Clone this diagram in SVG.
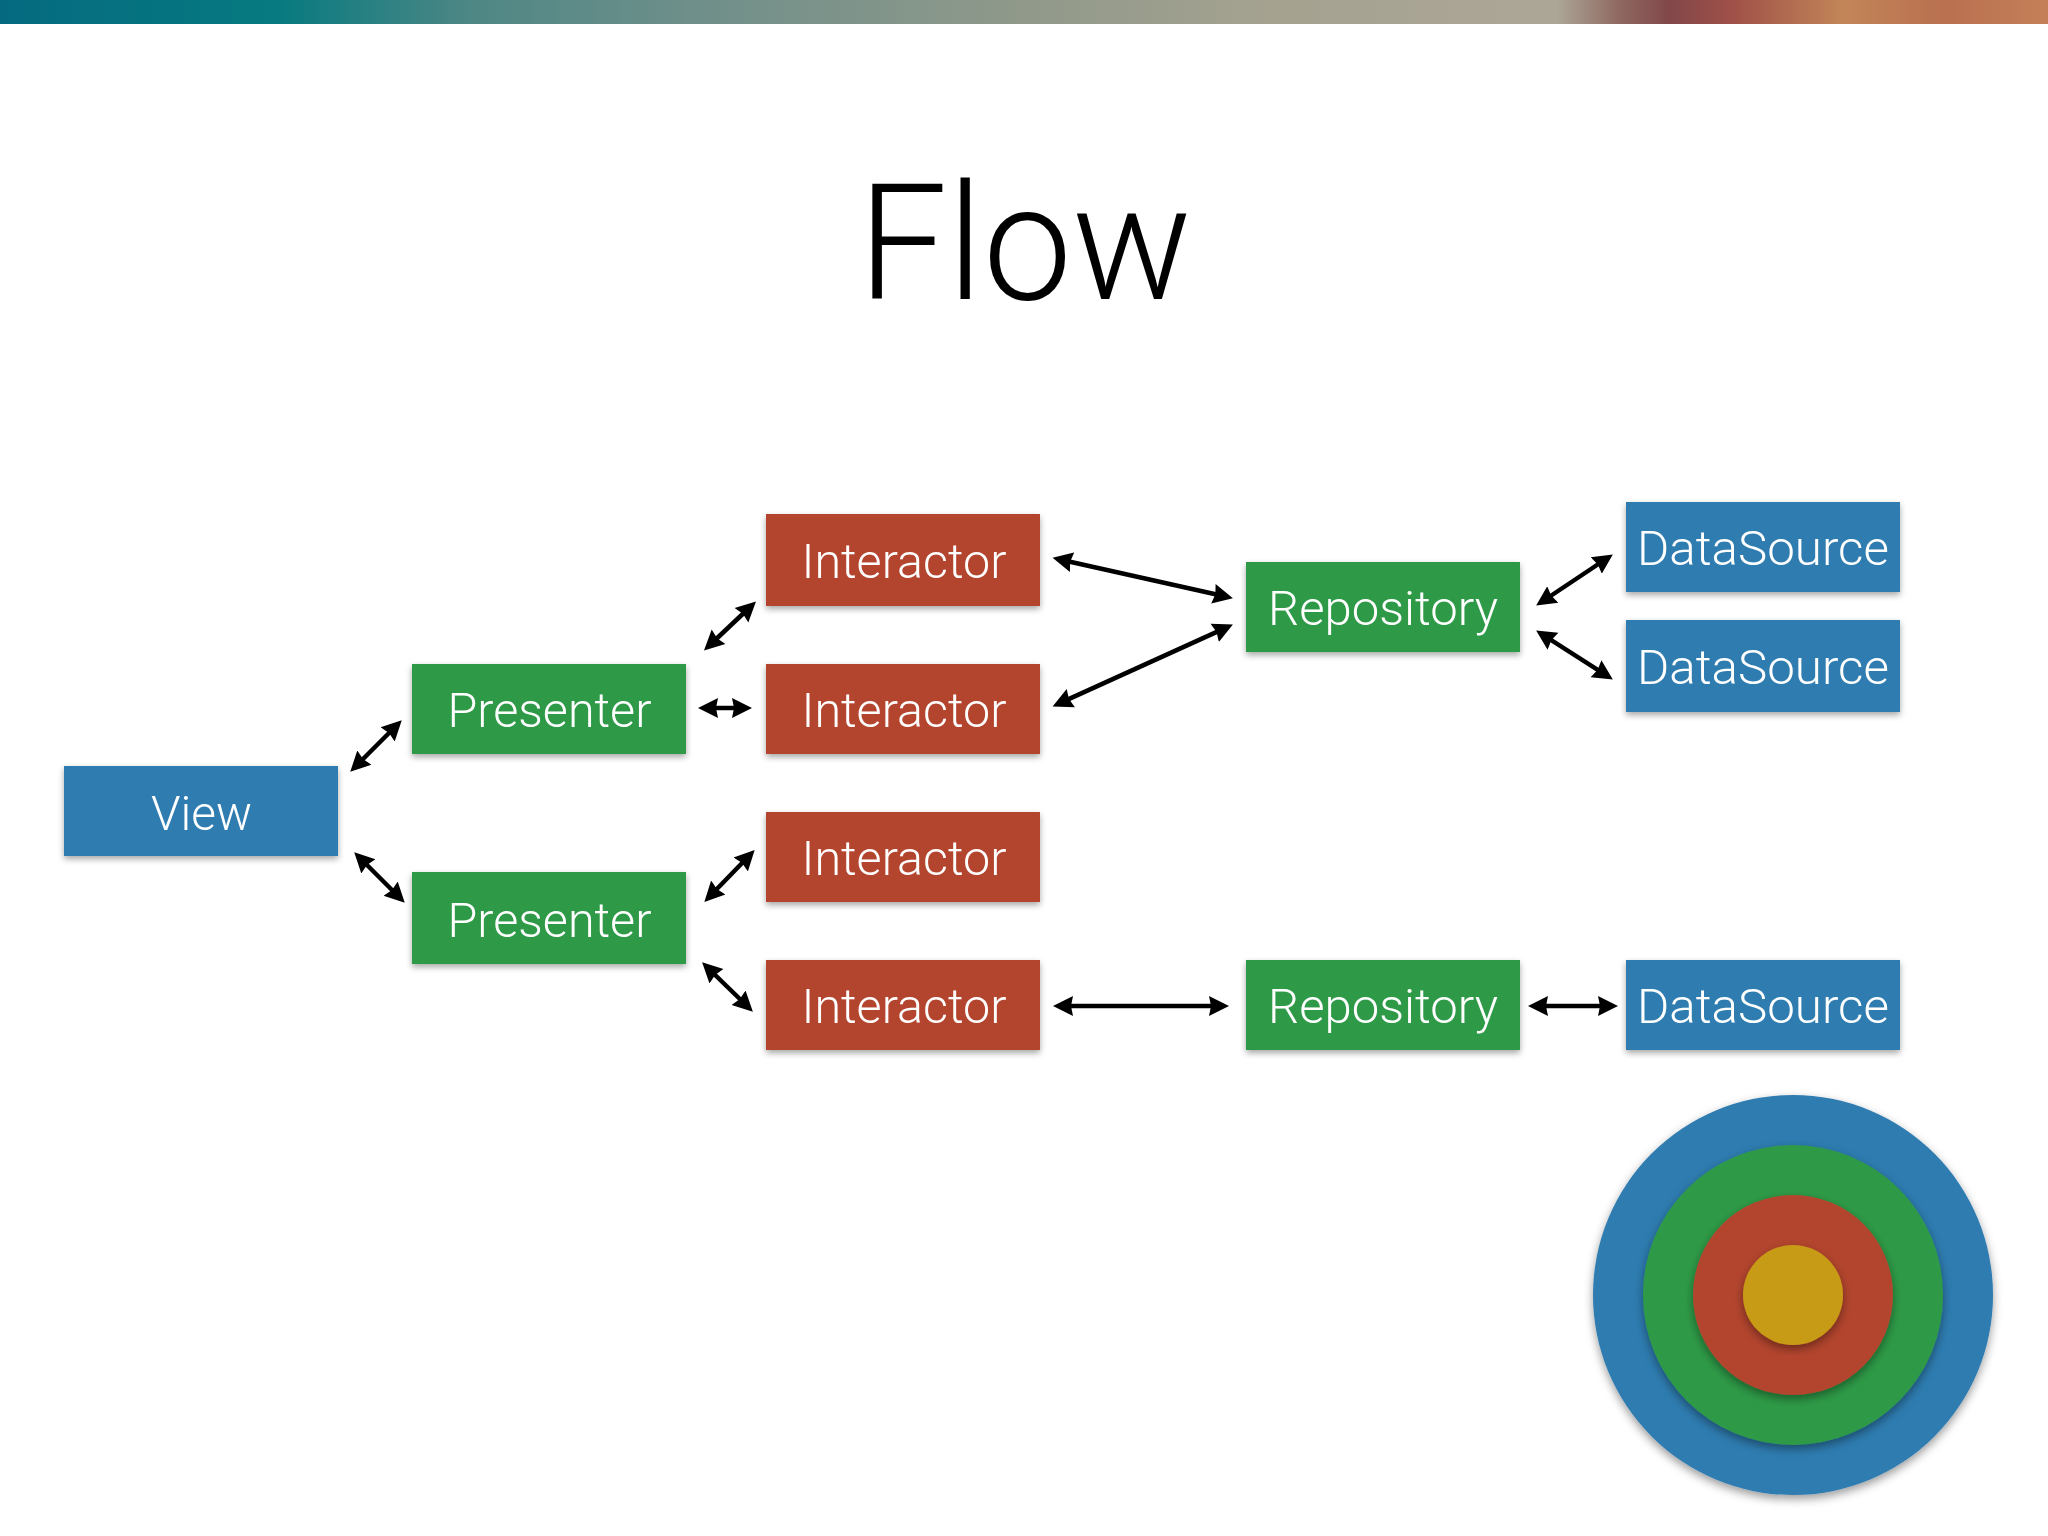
<svg xmlns="http://www.w3.org/2000/svg" width="2048" height="1536" viewBox="0 0 2048 1536">
<defs>
<linearGradient id="bar" x1="0" y1="0" x2="1" y2="0">
<stop offset="0" stop-color="#056a80"/><stop offset=".135" stop-color="#067a80"/><stop offset=".23" stop-color="#4e8785"/><stop offset=".34" stop-color="#6f8f8a"/><stop offset=".5" stop-color="#90998a"/><stop offset=".62" stop-color="#a5a290"/><stop offset=".76" stop-color="#aca697"/><stop offset=".79" stop-color="#8f6a62"/><stop offset=".815" stop-color="#82474a"/><stop offset=".845" stop-color="#9f5048"/><stop offset=".9" stop-color="#c28558"/><stop offset=".95" stop-color="#b9704f"/><stop offset="1" stop-color="#c47f58"/>
</linearGradient>
<filter id="sh" x="-10%" y="-10%" width="120%" height="130%"><feDropShadow dx="0" dy="3" stdDeviation="3" flood-color="#000" flood-opacity=".35"/></filter>
<filter id="csh" x="-10%" y="-10%" width="120%" height="120%"><feDropShadow dx="0" dy="4" stdDeviation="5" flood-color="#000" flood-opacity=".4"/></filter>
<marker id="ah" markerUnits="userSpaceOnUse" markerWidth="22" markerHeight="22" viewBox="0 0 22 22" refX="9" refY="11" orient="auto-start-reverse"><path d="M0 1 L20 11 L0 21 L2 11 Z" fill="#000"/></marker>
</defs>
<style>
.box{filter:url(#sh)}
.blue{fill:#2f7bb0}.green{fill:#2f9a47}.red{fill:#b3452f}.gold{fill:#c89b19}
.lbl{font-family:"Roboto","Liberation Sans",sans-serif;font-weight:300;font-size:49px;fill:#fff;text-anchor:middle}
.c{filter:url(#csh)}
#connectors line{stroke:#000;stroke-width:4.5;marker-start:url(#ah);marker-end:url(#ah)}
</style>
<rect width="2048" height="1536" fill="#fff"/>
<rect id="topbar" width="2048" height="24" fill="url(#bar)"/>
<text id="title" x="1025" y="299" font-family="Roboto,'Liberation Sans',sans-serif" font-weight="300" font-size="162" fill="#000" text-anchor="middle" textLength="334" lengthAdjust="spacingAndGlyphs">Flow</text>
<g id="connectors">
<line x1="358" y1="764" x2="394" y2="728"/>
<line x1="362" y1="860" x2="397" y2="895"/>
<line x1="709" y1="708" x2="741" y2="708"/>
<line x1="712" y1="894" x2="747" y2="858"/>
<line x1="710" y1="970" x2="745" y2="1004"/>
<line x1="712" y1="643" x2="748" y2="609"/>
<line x1="1063.3" y1="560.2" x2="1222.2" y2="595.8"/>
<line x1="1062.6" y1="701.9" x2="1222.9" y2="629.1"/>
<line x1="1545.3" y1="599.5" x2="1603.7" y2="560.5"/>
<line x1="1545.4" y1="636.4" x2="1603.6" y2="673.6"/>
<line x1="1064" y1="1006" x2="1218" y2="1006"/>
<line x1="1539" y1="1006" x2="1607" y2="1006"/>
</g>
<g id="view"><rect class="box blue" x="64" y="766" width="274" height="90"/><text class="lbl" x="201.5" y="829.5" textLength="101" lengthAdjust="spacingAndGlyphs">View</text></g>
<g id="presenter1"><rect class="box green" x="412" y="664" width="274" height="90"/><text class="lbl" x="549.5" y="726.5" textLength="204" lengthAdjust="spacingAndGlyphs">Presenter</text></g>
<g id="presenter2"><rect class="box green" x="412" y="872" width="274" height="92"/><text class="lbl" x="549.5" y="936.5" textLength="204" lengthAdjust="spacingAndGlyphs">Presenter</text></g>
<g id="interactor1"><rect class="box red" x="766" y="514" width="274" height="92"/><text class="lbl" x="904" y="578" textLength="205" lengthAdjust="spacingAndGlyphs">Interactor</text></g>
<g id="interactor2"><rect class="box red" x="766" y="664" width="274" height="90"/><text class="lbl" x="904" y="727" textLength="205" lengthAdjust="spacingAndGlyphs">Interactor</text></g>
<g id="interactor3"><rect class="box red" x="766" y="812" width="274" height="90"/><text class="lbl" x="904" y="875" textLength="205" lengthAdjust="spacingAndGlyphs">Interactor</text></g>
<g id="interactor4"><rect class="box red" x="766" y="960" width="274" height="90"/><text class="lbl" x="904" y="1023" textLength="205" lengthAdjust="spacingAndGlyphs">Interactor</text></g>
<g id="repository1"><rect class="box green" x="1246" y="562" width="274" height="90"/><text class="lbl" x="1383" y="625" textLength="230" lengthAdjust="spacingAndGlyphs">Repository</text></g>
<g id="repository2"><rect class="box green" x="1246" y="960" width="274" height="90"/><text class="lbl" x="1383" y="1023" textLength="230" lengthAdjust="spacingAndGlyphs">Repository</text></g>
<g id="datasource1"><rect class="box blue" x="1626" y="502" width="274" height="90"/><text class="lbl" x="1763" y="565" textLength="252" lengthAdjust="spacingAndGlyphs">DataSource</text></g>
<g id="datasource2"><rect class="box blue" x="1626" y="620" width="274" height="92"/><text class="lbl" x="1763" y="684" textLength="252" lengthAdjust="spacingAndGlyphs">DataSource</text></g>
<g id="datasource3"><rect class="box blue" x="1626" y="960" width="274" height="90"/><text class="lbl" x="1763" y="1023" textLength="252" lengthAdjust="spacingAndGlyphs">DataSource</text></g>
<g id="target">
<circle class="c blue" cx="1793" cy="1295" r="200"/>
<circle class="c green" cx="1793" cy="1295" r="150"/>
<circle class="c red" cx="1793" cy="1295" r="100"/>
<circle class="c gold" cx="1793" cy="1295" r="50"/>
</g>
</svg>
